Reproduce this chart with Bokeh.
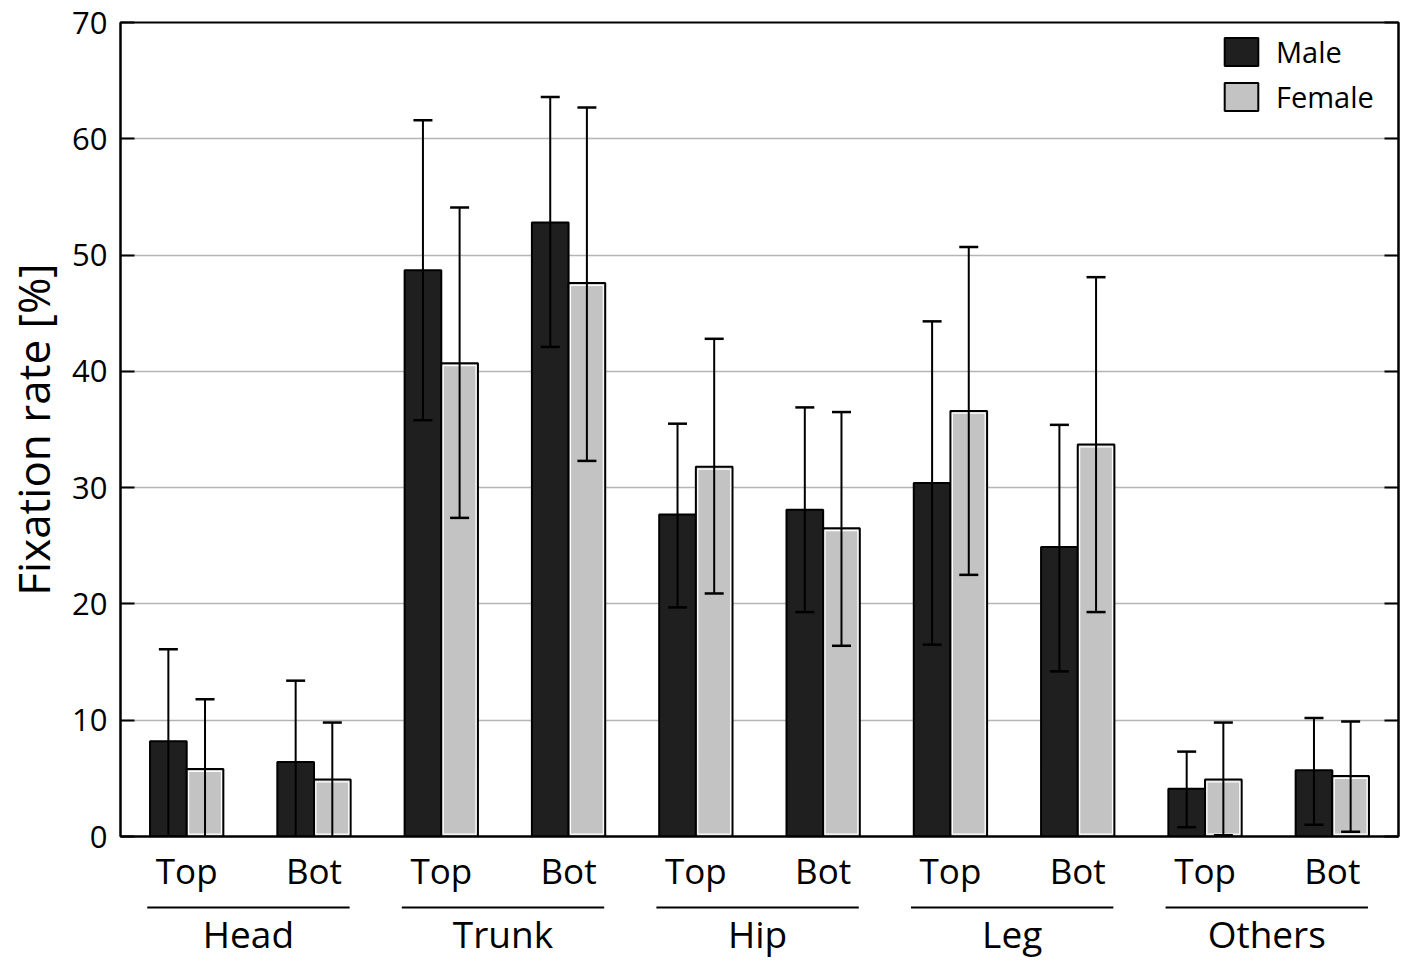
import numpy as np
from bokeh.plotting import figure
from bokeh.models import (ColumnDataSource, Range1d, LinearAxis, FixedTicker,
                          Whisker, TeeHead, Legend, LegendItem)
from bokeh.layouts import column
from bokeh.embed import file_html
from bokeh.resources import INLINE
from bokeh.core.properties import value

# ---------------- data ----------------
groups = ["Head", "Trunk", "Hip", "Leg", "Others"]
positions = ["Top", "Bot"]

male = [8.2, 6.4, 48.7, 52.8, 27.7, 28.1, 30.4, 24.9, 4.1, 5.7]
male_upper = [16.1, 13.4, 61.6, 63.6, 35.5, 36.9, 44.3, 35.4, 7.3, 10.2]
male_lower = [0.0, -0.7, 35.8, 42.1, 19.7, 19.3, 16.5, 14.2, 0.8, 1.0]

female = [5.8, 4.9, 40.7, 47.6, 31.8, 26.5, 36.6, 33.7, 4.9, 5.2]
female_upper = [11.8, 9.8, 54.1, 62.7, 42.8, 36.5, 50.7, 48.1, 9.8, 9.9]
female_lower = [-0.2, -0.1, 27.4, 32.3, 20.9, 16.4, 22.5, 19.3, 0.1, 0.4]

y_ticks = [0, 10, 20, 30, 40, 50, 60, 70]

FONT = "Open Sans"
MALE_COLOR = "#1f1f1f"
FEMALE_COLOR = "#c3c3c3"

# ---------------- helpers ----------------
n_pos = len(positions)
n = len(groups) * n_pos
idx = np.arange(n, dtype=float)
off = 0.144
bar_w = 0.288
sub_labels = positions * len(groups)

src = ColumnDataSource(dict(
    xm=idx - off, xf=idx + off,
    male=male, male_upper=male_upper, male_lower=male_lower,
    female=female, female_upper=female_upper, female_lower=female_lower,
    f_in_top=np.array(female) - 0.2,
))

W = 1401
TOTAL_H = 959
LEFT = 118
RIGHT = 3
FRAME_TOP = 22
FRAME_BOTTOM = 838
XAXIS_H = 58
H1 = FRAME_BOTTOM + XAXIS_H
xr = Range1d(-0.52, n - 1 + 0.52)

p = figure(width=W, height=H1, x_range=xr, y_range=Range1d(0, 70),
           output_backend="svg", toolbar_location=None,
           min_border_left=LEFT, min_border_right=RIGHT,
           min_border_top=FRAME_TOP, min_border_bottom=XAXIS_H,
           x_axis_location="below", y_axis_location="left")
p.background_fill_color = "white"
p.border_fill_color = "white"
p.outline_line_color = "black"
p.outline_line_width = 2
p.xgrid.visible = False
p.ygrid.ticker = FixedTicker(ticks=y_ticks)
p.ygrid.grid_line_color = "#b5b5b5"
p.ygrid.grid_line_width = 1.5

# x axis: Top / Bot labels
xa = p.xaxis[0]
xa.ticker = FixedTicker(ticks=list(range(n)))
xa.major_label_overrides = {i: sub_labels[i] for i in range(n)}
xa.major_tick_in = 0
xa.major_tick_out = 0
xa.minor_tick_in = 0
xa.minor_tick_out = 0
xa.major_tick_line_color = None
xa.axis_line_width = 2
xa.major_label_text_font = FONT
xa.major_label_text_font_size = "35px"
xa.major_label_text_color = "black"
xa.major_label_standoff = 10

# y axis
ax = p.yaxis[0]
ax.ticker = FixedTicker(ticks=y_ticks)
ax.major_tick_in = 14
ax.major_tick_out = 0
ax.minor_tick_in = 0
ax.minor_tick_out = 0
ax.axis_line_width = 2
ax.major_tick_line_width = 2
ax.major_label_text_font = FONT
ax.major_label_text_font_size = "31px"
ax.major_label_text_color = "black"
ax.major_label_standoff = 13
ax.axis_label = "Fixation rate [%]"
ax.axis_label_text_font = FONT
ax.axis_label_text_font_size = "44px"
ax.axis_label_text_font_style = "normal"
ax.axis_label_text_color = "black"
ax.axis_label_standoff = 6

rax = LinearAxis(ticker=FixedTicker(ticks=y_ticks),
                 major_label_overrides={t: "" for t in y_ticks},
                 major_label_standoff=0,
                 major_tick_in=14, major_tick_out=0,
                 minor_tick_in=0, minor_tick_out=0,
                 axis_line_width=2, major_tick_line_width=2)
p.add_layout(rax, "right")

rm = p.vbar(x="xm", top="male", bottom=0, width=bar_w, source=src,
            fill_color=MALE_COLOR, line_color="black", line_width=2)
rf = p.vbar(x="xf", top="female", bottom=0, width=bar_w, source=src,
            fill_color=FEMALE_COLOR, line_color="black", line_width=2)
# thin white inner rim on the female bars
p.vbar(x="xf", top="f_in_top", bottom=0.2, width=bar_w - 0.03, source=src,
       fill_color=None, line_color="white", line_width=1.2)

for base, up, lo in (("xm", "male_upper", "male_lower"),
                     ("xf", "female_upper", "female_lower")):
    w = Whisker(base=base, upper=up, lower=lo, source=src, level="overlay",
                line_color="black", line_width=2,
                upper_head=TeeHead(size=19, line_width=2.5, line_color="black"),
                lower_head=TeeHead(size=19, line_width=2.5, line_color="black"))
    p.add_layout(w)

legend = Legend(items=[LegendItem(label="Male", renderers=[rm]),
                       LegendItem(label="Female", renderers=[rf])],
                location=(1100, 720),
                glyph_width=42, glyph_height=35, label_height=35,
                label_standoff=14, spacing=6, padding=10, margin=0,
                label_text_font=FONT, label_text_font_size="29px",
                label_text_color="black",
                border_line_color=None, background_fill_alpha=0)
p.add_layout(legend)

# ---------------- group underlines and labels ----------------
H2 = TOTAL_H - H1
q = figure(width=W, height=H2, x_range=xr, y_range=Range1d(H2, 0),
           output_backend="svg", toolbar_location=None,
           min_border_left=LEFT, min_border_right=RIGHT,
           min_border_top=0, min_border_bottom=0,
           x_axis_location=None, y_axis_location=None)
q.outline_line_color = None
q.xgrid.visible = False
q.ygrid.visible = False
q.background_fill_color = "white"
q.border_fill_color = "white"

g_start = idx[::n_pos] - 0.31
g_end = idx[n_pos - 1::n_pos] + 0.28
q.segment(x0=g_start, x1=g_end, y0=11, y1=11, line_color="black", line_width=2)
q.text(x=(g_start + g_end) / 2, y=H2 - 1, text=groups, text_align="center",
       text_baseline="bottom", text_font=value(FONT), text_font_size="37px",
       text_color="black")

layout = column(p, q, spacing=0)
open("out.html", "w").write(file_html(layout, INLINE))
